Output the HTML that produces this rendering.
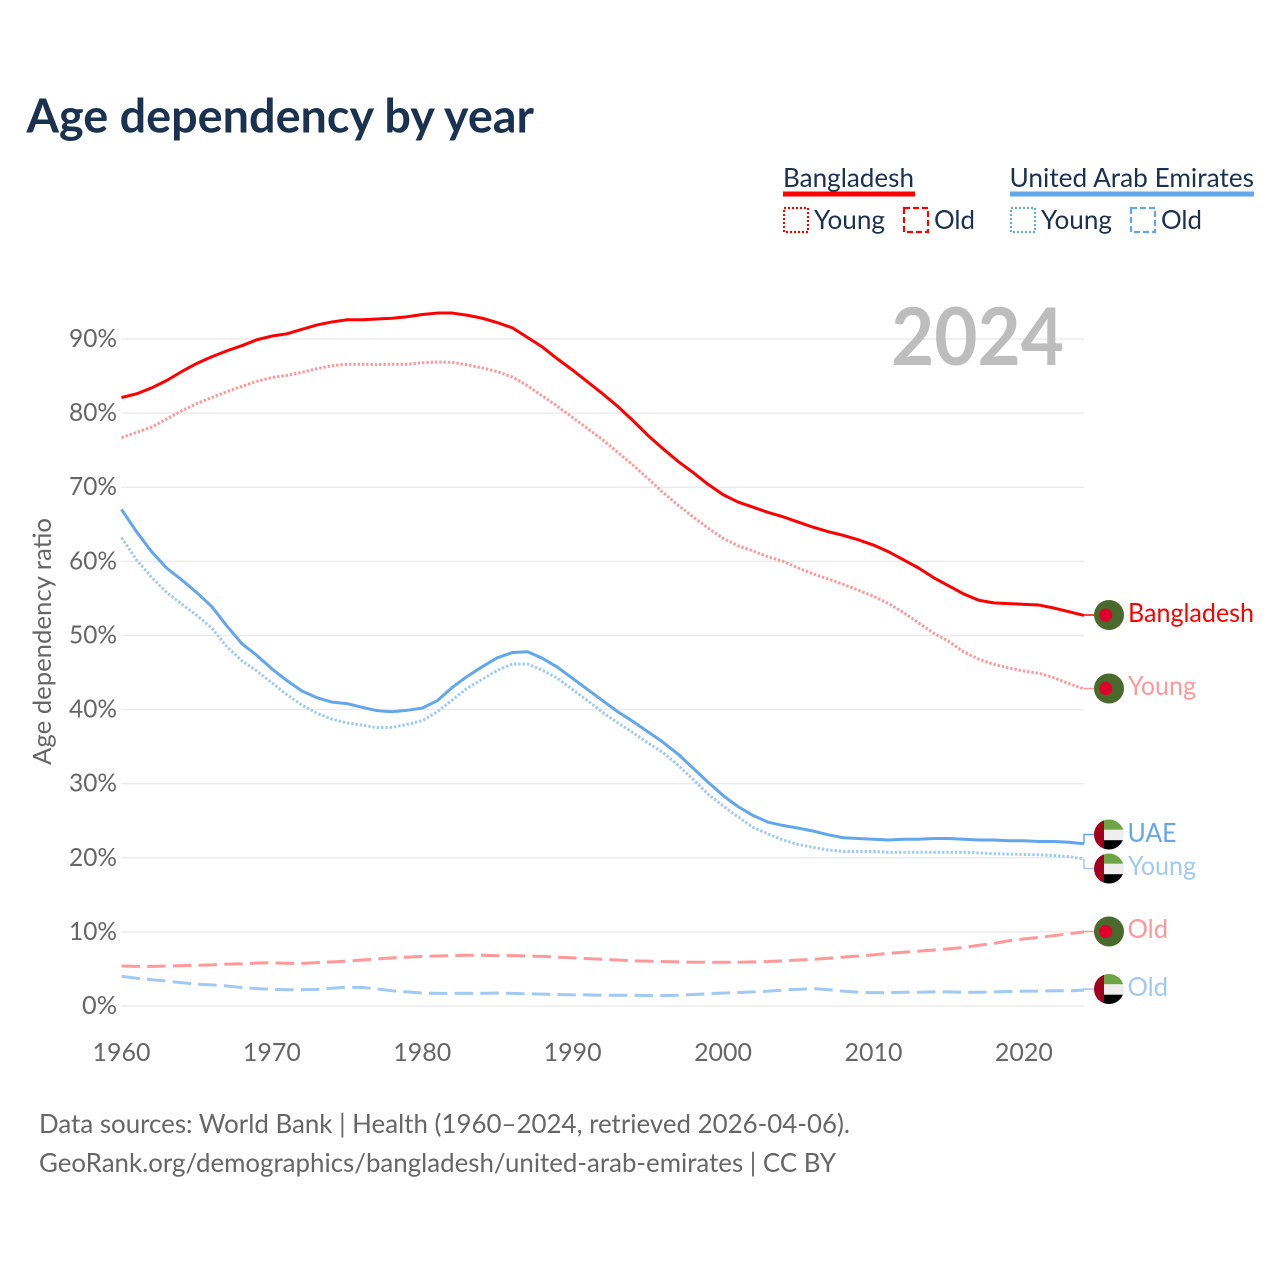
<!DOCTYPE html>
<html lang="en">
<head>
<meta charset="utf-8">
<title>Age dependency by year</title>
<style>
html,body{margin:0;padding:0;background:#fff;}
svg{display:block;font-family:"Lato","Carlito","Liberation Sans",sans-serif;}
.legend-text{font-size:26px;fill:#1a3150;}
.tick{font-size:25px;fill:#666;}
.foot{font-size:26px;fill:#666;}
.end-label{font-size:26px;}
</style>
</head>
<body>
<svg id="chart" xmlns="http://www.w3.org/2000/svg" width="1280" height="1280" viewBox="0 0 1280 1280">
  <defs>
    <clipPath id="flag-clip"><circle cx="0" cy="0" r="15"/></clipPath>
    <g id="flag-bd">
      <circle cx="0" cy="0" r="15" fill="#4a6a2d"/>
      <circle cx="-3.3" cy="0" r="6.6" fill="#e0002b"/>
    </g>
    <g id="flag-ae" clip-path="url(#flag-clip)">
      <rect x="-15" y="-15" width="30" height="10.3" fill="#6da544"/>
      <rect x="-15" y="-4.7" width="30" height="10.4" fill="#eeeeee"/>
      <rect x="-15" y="5.7" width="30" height="9.3" fill="#000000"/>
      <rect x="-15" y="-15" width="10" height="30" fill="#a2001d"/>
    </g>
  </defs>

  <text x="26.5" y="132.5" font-size="46.5" font-weight="700" fill="#1a3150" textLength="507.5" lengthAdjust="spacingAndGlyphs">Age dependency by year</text>

  <g>
    <text class="legend-text" x="783" y="187" textLength="131" lengthAdjust="spacingAndGlyphs">Bangladesh</text>
    <rect x="783" y="191.5" width="132" height="5" fill="#ff0000"/>
    <rect x="784" y="208" width="24" height="24" fill="none" stroke="#ff0000" stroke-width="2.2" stroke-dasharray="2 2"/>
    <text class="legend-text" x="814" y="229" textLength="71" lengthAdjust="spacingAndGlyphs">Young</text>
    <rect x="904" y="208" width="24" height="24" fill="none" stroke="#ff0000" stroke-width="2.2" stroke-dasharray="6 3"/>
    <text class="legend-text" x="934" y="229" textLength="41" lengthAdjust="spacingAndGlyphs">Old</text>

    <text class="legend-text" x="1009.5" y="187" textLength="244.5" lengthAdjust="spacingAndGlyphs">United Arab Emirates</text>
    <rect x="1010" y="191.5" width="244" height="5" fill="#62a6ee"/>
    <rect x="1011" y="208" width="24" height="24" fill="none" stroke="#62a6ee" stroke-width="2.2" stroke-dasharray="2 2"/>
    <text class="legend-text" x="1041" y="229" textLength="71" lengthAdjust="spacingAndGlyphs">Young</text>
    <rect x="1131" y="208" width="24" height="24" fill="none" stroke="#62a6ee" stroke-width="2.2" stroke-dasharray="6 3"/>
    <text class="legend-text" x="1161" y="229" textLength="41" lengthAdjust="spacingAndGlyphs">Old</text>
  </g>

  <g id="grid"></g>
  <g id="y-ticks"></g>
  <g id="x-ticks"></g>

  <text class="tick" transform="translate(51,765) rotate(-90)" x="0" y="0" textLength="247" lengthAdjust="spacingAndGlyphs">Age dependency ratio</text>

  <text x="891" y="365" font-size="80" font-weight="700" fill="#bdbdbd" textLength="173" lengthAdjust="spacingAndGlyphs">2024</text>

  <g id="series"></g>

  <g>
    <use href="#flag-bd" transform="translate(1109,615)"/>
    <text class="end-label" x="1128" y="622" fill="#ff0000" textLength="126" lengthAdjust="spacingAndGlyphs">Bangladesh</text>
    <use href="#flag-bd" transform="translate(1109,688.5)"/>
    <text class="end-label" x="1128" y="695" fill="#ff9999" textLength="68" lengthAdjust="spacingAndGlyphs">Young</text>
    <use href="#flag-ae" transform="translate(1109,834.5)"/>
    <text class="end-label" x="1127.5" y="842" fill="#62a6ee" textLength="49" lengthAdjust="spacingAndGlyphs">UAE</text>
    <use href="#flag-ae" transform="translate(1109,868.5)"/>
    <text class="end-label" x="1128" y="875" fill="#a1c9f5" textLength="68" lengthAdjust="spacingAndGlyphs">Young</text>
    <use href="#flag-bd" transform="translate(1109,931.5)"/>
    <text class="end-label" x="1127.5" y="938" fill="#ff9999" textLength="40.5" lengthAdjust="spacingAndGlyphs">Old</text>
    <use href="#flag-ae" transform="translate(1109,989)"/>
    <text class="end-label" x="1127.5" y="996" fill="#a1c9f5" textLength="40.5" lengthAdjust="spacingAndGlyphs">Old</text>
  </g>

  <text class="foot" x="39" y="1133" textLength="811" lengthAdjust="spacingAndGlyphs">Data sources: World Bank | Health (1960–2024, retrieved 2026-04-06).</text>
  <text class="foot" x="39" y="1172" textLength="797" lengthAdjust="spacingAndGlyphs">GeoRank.org/demographics/bangladesh/united-arab-emirates | CC BY</text>
</svg>

<script>
const yTicks = [0, 10, 20, 30, 40, 50, 60, 70, 80, 90];
const xTicks = [1960, 1970, 1980, 1990, 2000, 2010, 2020];
const firstYear = 1960;
const lastYear = 2024;

const bangladeshTotal = [82.1,82.6,83.4,84.4,85.6,86.7,87.6,88.4,89.1,89.9,90.4,90.7,91.3,91.9,92.3,92.6,92.6,92.7,92.8,93.0,93.3,93.5,93.5,93.2,92.8,92.2,91.5,90.2,88.9,87.3,85.8,84.2,82.6,80.9,79.0,77.0,75.2,73.5,72.0,70.4,69.0,68.0,67.3,66.6,66.0,65.3,64.6,64.0,63.5,62.9,62.2,61.3,60.2,59.1,57.8,56.7,55.6,54.75,54.4,54.3,54.2,54.1,53.7,53.2,52.7];
const bangladeshYoung = [76.7,77.4,78.1,79.2,80.3,81.3,82.1,82.9,83.6,84.3,84.8,85.1,85.5,86.0,86.4,86.6,86.6,86.55,86.6,86.6,86.8,86.9,86.85,86.5,86.1,85.6,84.85,83.7,82.3,80.9,79.4,77.9,76.4,74.7,73.0,71.2,69.3,67.6,66.0,64.5,63.1,62.1,61.4,60.6,60.0,59.1,58.3,57.6,56.9,56.1,55.3,54.3,53.1,51.7,50.3,49.2,47.8,46.8,46.1,45.6,45.2,44.9,44.3,43.5,42.8];
const bangladeshOld = [5.4,5.35,5.35,5.4,5.45,5.5,5.55,5.65,5.7,5.8,5.85,5.75,5.75,5.85,5.95,6.05,6.2,6.35,6.5,6.6,6.7,6.75,6.8,6.85,6.85,6.8,6.8,6.75,6.7,6.6,6.5,6.4,6.3,6.2,6.1,6.05,6.0,5.95,5.9,5.9,5.9,5.9,5.95,6.0,6.1,6.2,6.3,6.45,6.6,6.75,6.9,7.1,7.25,7.4,7.55,7.7,7.9,8.2,8.45,8.8,9.05,9.25,9.5,9.75,10.0];
const uaeTotal = [67.0,64.0,61.3,59.1,57.5,55.8,53.9,51.3,48.9,47.3,45.5,43.9,42.5,41.6,41.0,40.8,40.3,39.85,39.7,39.9,40.2,41.2,43.0,44.5,45.8,47.0,47.7,47.8,46.9,45.7,44.2,42.7,41.2,39.7,38.4,37.0,35.6,34.0,32.1,30.2,28.4,26.9,25.7,24.8,24.35,24.0,23.6,23.1,22.7,22.6,22.5,22.4,22.5,22.5,22.6,22.6,22.5,22.4,22.4,22.3,22.3,22.2,22.2,22.1,21.9];
const uaeYoung = [63.2,60.2,57.85,55.8,54.25,52.7,51.0,48.5,46.6,45.2,43.6,42.0,40.6,39.5,38.7,38.2,37.9,37.55,37.6,38.0,38.5,39.7,41.3,42.9,44.1,45.3,46.15,46.15,45.3,44.2,42.7,41.2,39.6,38.2,36.9,35.5,34.2,32.5,30.6,28.6,27.0,25.5,24.1,23.2,22.4,21.8,21.4,21.05,20.85,20.85,20.85,20.75,20.75,20.75,20.75,20.75,20.75,20.65,20.55,20.5,20.45,20.4,20.3,20.15,19.85];
const uaeOld = [4.0,3.75,3.55,3.35,3.15,2.95,2.85,2.7,2.5,2.35,2.25,2.2,2.2,2.25,2.4,2.55,2.5,2.3,2.05,1.9,1.75,1.7,1.7,1.7,1.7,1.75,1.7,1.65,1.6,1.55,1.5,1.5,1.45,1.45,1.45,1.4,1.4,1.45,1.55,1.65,1.75,1.8,1.9,2.0,2.15,2.25,2.35,2.2,2.0,1.85,1.8,1.8,1.85,1.85,1.9,1.9,1.85,1.85,1.9,1.95,2.0,2.0,2.05,2.05,2.15];

const NS = 'http://www.w3.org/2000/svg';
const PLOT_LEFT = 121.5, PLOT_RIGHT = 1084, ZERO_Y = 1006, NINETY_Y = 339;
function xScale(year) { return PLOT_LEFT + (year - firstYear) * (PLOT_RIGHT - PLOT_LEFT) / (lastYear - firstYear); }
function yScale(v) { return ZERO_Y + v * (NINETY_Y - ZERO_Y) / 90; }

const gridGroup = document.getElementById('grid');
const yTickGroup = document.getElementById('y-ticks');
const xTickGroup = document.getElementById('x-ticks');
const seriesGroup = document.getElementById('series');

yTicks.forEach(function (t) {
  const gl = document.createElementNS(NS, 'line');
  
  
  gl.setAttribute('x1', PLOT_LEFT);
  gl.setAttribute('x2', PLOT_RIGHT);
  gl.setAttribute('y1', yScale(t));
  gl.setAttribute('y2', yScale(t));
  gl.setAttribute('stroke', '#ebebeb');
  gl.setAttribute('stroke-width', '1.5');
  gridGroup.appendChild(gl);

  const lb = document.createElementNS(NS, 'text');
  
  
  lb.setAttribute('class', 'tick');
  const label = t + '%';
  const w = t === 0 ? 35 : 48;
  lb.setAttribute('x', 117 - w);
  lb.setAttribute('y', yScale(t) + 8);
  lb.setAttribute('textLength', w);
  lb.setAttribute('lengthAdjust', 'spacingAndGlyphs');
  lb.textContent = label;
  yTickGroup.appendChild(lb);
});

xTicks.forEach(function (t) {
  const lb = document.createElementNS(NS, 'text');
  
  
  lb.setAttribute('class', 'tick');
  lb.setAttribute('x', xScale(t) - 29);
  lb.setAttribute('y', 1061);
  lb.setAttribute('textLength', 58);
  lb.setAttribute('lengthAdjust', 'spacingAndGlyphs');
  lb.textContent = t;
  xTickGroup.appendChild(lb);
});

function pathFor(values) {
  return values.map(function (v, i) {
    return (i ? 'L' : 'M') + xScale(firstYear + i).toFixed(2) + ' ' + yScale(v).toFixed(2);
  }).join(' ');
}

function drawLine(values, name, color, dash) {
  const p = document.createElementNS(NS, 'path');
  
  
  p.setAttribute('d', pathFor(values));
  p.setAttribute('fill', 'none');
  p.setAttribute('stroke', color);
  p.setAttribute('stroke-width', '3');
  p.setAttribute('stroke-linejoin', 'round');
  if (dash) p.setAttribute('stroke-dasharray', dash);
  seriesGroup.appendChild(p);
}

function drawConnector(values, flagY, name, color) {
  const endY = yScale(values[values.length - 1]);
  const c = document.createElementNS(NS, 'polyline');
  
  
  c.setAttribute('points', PLOT_RIGHT + ',' + endY.toFixed(2) + ' ' + PLOT_RIGHT + ',' + flagY + ' 1094,' + flagY);
  c.setAttribute('fill', 'none');
  c.setAttribute('stroke', color);
  c.setAttribute('stroke-width', '1.5');
  seriesGroup.appendChild(c);
}

drawLine(bangladeshOld, 'line-bangladesh-old', '#ff9999', '18.5 7.2');
drawLine(uaeOld, 'line-uae-old', '#a1c9f5', '18.5 7.2');
drawLine(bangladeshYoung, 'line-bangladesh-young', '#ff9999', '2.4 1.9');
drawLine(uaeYoung, 'line-uae-young', '#a1c9f5', '2.4 1.9');
drawLine(bangladeshTotal, 'line-bangladesh-total', '#ff0000', '');
drawLine(uaeTotal, 'line-uae-total', '#62a6ee', '');

drawConnector(bangladeshTotal, 615, 'connector-bangladesh', '#ff0000');
drawConnector(bangladeshYoung, 688.5, 'connector-bangladesh-young', '#ff9999');
drawConnector(uaeTotal, 834.5, 'connector-uae', '#62a6ee');
drawConnector(uaeYoung, 868.5, 'connector-uae-young', '#a1c9f5');
drawConnector(bangladeshOld, 931.5, 'connector-bangladesh-old', '#ff9999');
drawConnector(uaeOld, 989, 'connector-uae-old', '#a1c9f5');
</script>
</body>
</html>
